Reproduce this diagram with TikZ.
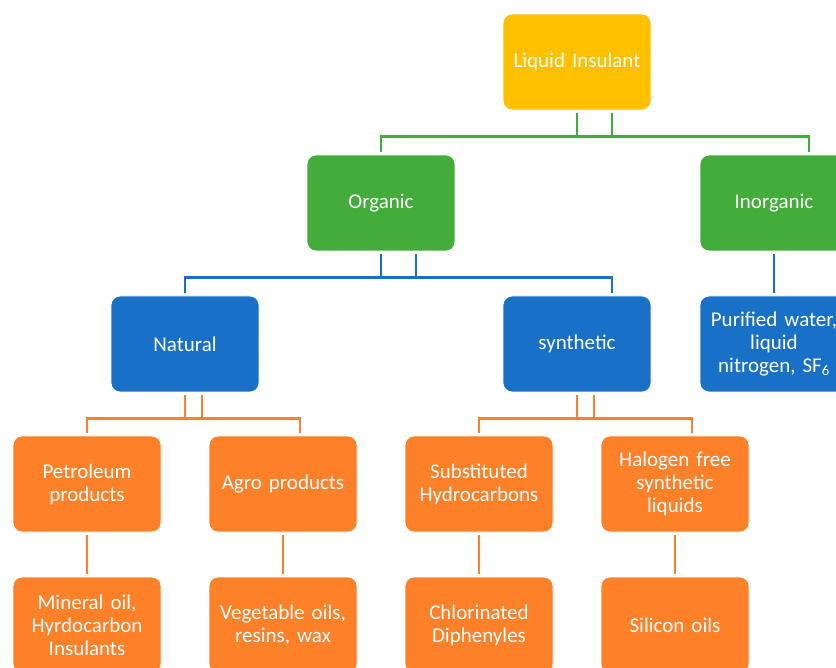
\documentclass[tikz,border=0pt]{standalone}
\usepackage{fontspec}
\setmainfont{Carlito}
\definecolor{gold}{RGB}{255,192,0}
\definecolor{leaf}{RGB}{67,172,59}
\definecolor{sea}{RGB}{24,113,199}
\definecolor{tang}{RGB}{254,128,40}
\tikzset{
	box/.style={draw=white,line width=0.8pt,rounded corners=9pt,minimum width=148pt,minimum height=96pt,
		text width=140pt,align=center,text=white,font=\fontsize{21}{23}\selectfont},
	link/.style={line width=2.4pt,shorten <=3pt,shorten >=3pt}
}

\begin{document}
\begin{tikzpicture}[x=1pt,y=-1pt]
	\useasboundingbox (0,0) rectangle (836,668);
	\clip (0,0) rectangle (836,668);
	\node[box,fill=gold] (li) at (577,62){Liquid Insulant};
	\node[box,fill=leaf] (org) at (381,203){Organic};
	\node[box,fill=leaf] (inorg) at (774,203){Inorganic};
	\node[box,fill=sea] (nat) at (185,344){Natural};
	\node[box,fill=sea] (syn) at (577,344){synthetic};
	\node[box,fill=sea] (pur) at (774,344){Purified water,\\liquid\\nitrogen, SF\textsubscript{6}};
	\node[box,fill=tang] (pet) at (87,484){Petroleum\\products};
	\node[box,fill=tang] (agro) at (283,484){Agro products};
	\node[box,fill=tang] (subs) at (479,484){Substituted\\Hydrocarbons};
	\node[box,fill=tang] (halo) at (675,484){Halogen free\\synthetic\\liquids};
	\node[box,fill=tang] (min) at (87,625){Mineral oil,\\Hyrdocarbon\\Insulants};
	\node[box,fill=tang] (veg) at (283,625){Vegetable oils,\\resins, wax};
	\node[box,fill=tang] (chl) at (479,625){Chlorinated\\Diphenyles};
	\node[box,fill=tang] (sil) at (675,625){Silicon oils};
	\draw[link,leaf] ([xshift=35pt]li.south) -- ++(0,26) -| (org.north);
	\draw[link,leaf] (li.south) -- ++(0,26) -| ([xshift=35pt]inorg.north);
	\draw[link,sea] ([xshift=35pt]org.south) -- ++(0,26) -| (nat.north);
	\draw[link,sea] (org.south) -- ++(0,26) -| ([xshift=35pt]syn.north);
	\draw[link,sea] (inorg) -- (pur);
	\draw[link,tang] ([xshift=17pt]nat.south) -- ++(0,26) -| (pet.north);
	\draw[link,tang] (nat.south) -- ++(0,26) -| ([xshift=17pt]agro.north);
	\draw[link,tang] ([xshift=17pt]syn.south) -- ++(0,26) -| (subs.north);
	\draw[link,tang] (syn.south) -- ++(0,26) -| ([xshift=17pt]halo.north);
	\draw[link,tang] (pet) -- (min);
	\draw[link,tang] (agro) -- (veg);
	\draw[link,tang] (subs) -- (chl);
	\draw[link,tang] (halo) -- (sil);
\end{tikzpicture}
\end{document}
